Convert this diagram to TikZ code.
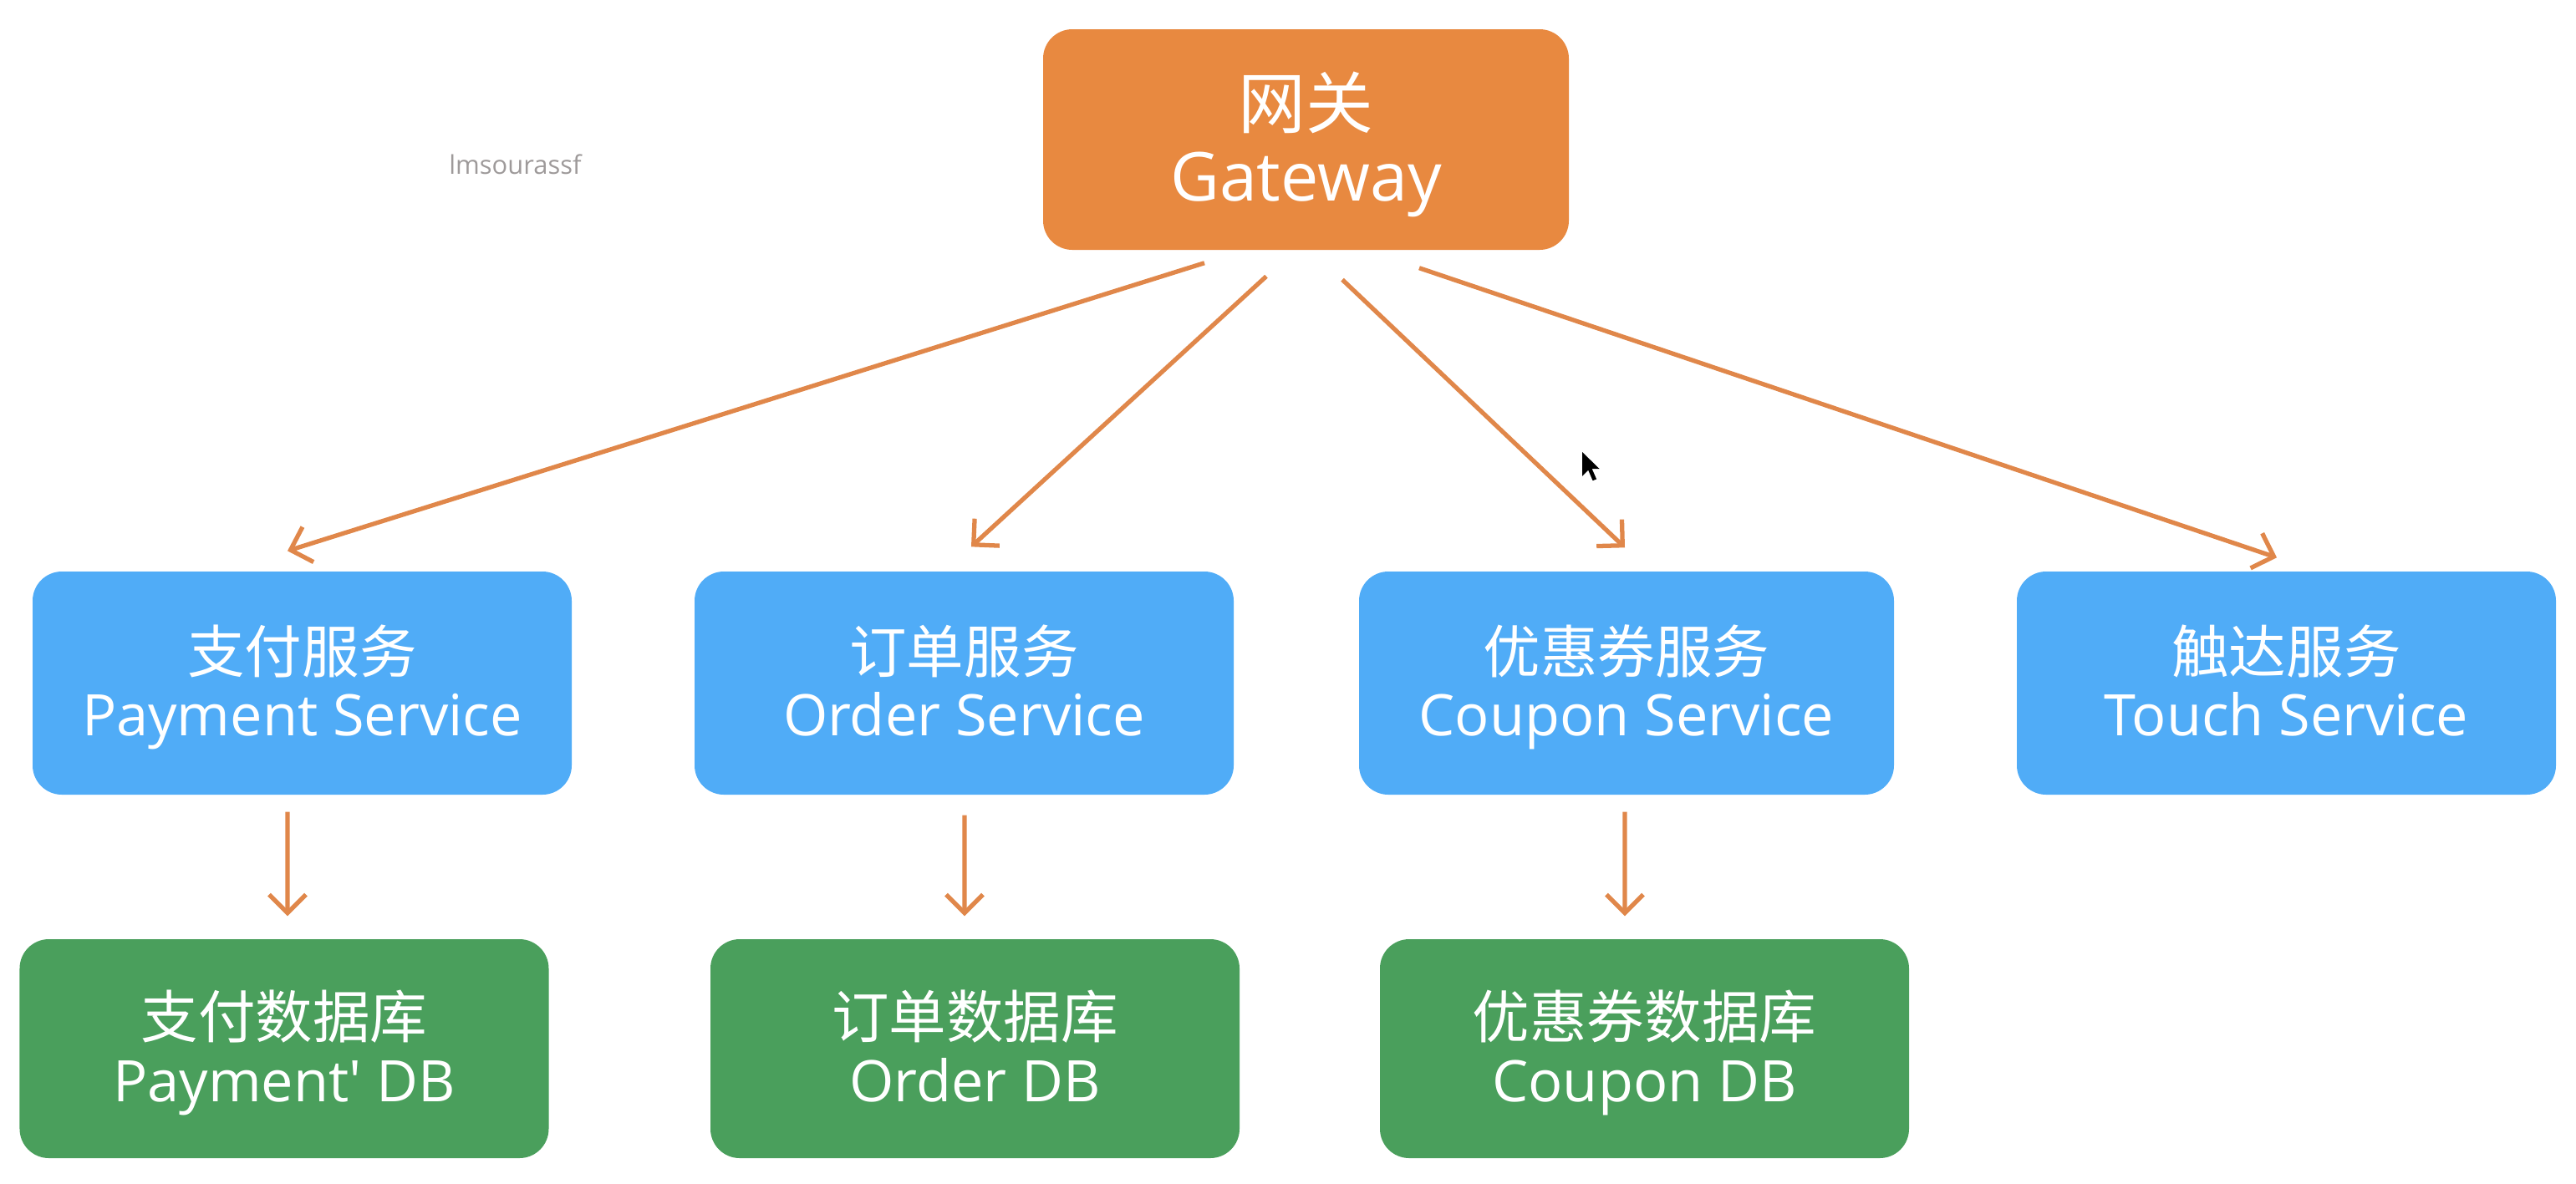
\documentclass[tikz,border=0pt]{standalone}
\usepackage{fontspec}
\usepackage{tikz}
\usetikzlibrary{arrows.meta, positioning, calc}
\setmainfont{Open Sans}
\newfontfamily\cjk{Noto Sans CJK SC}
\newcommand{\padtop}[1]{\rule{0pt}{#1}}
\newcommand{\padbot}[1]{\rule[-#1]{0pt}{#1}}
\definecolor{gworange}{RGB}{232, 137, 64}
\definecolor{svcblue}{RGB}{80, 172, 247}
\definecolor{dbgreen}{RGB}{74, 159, 92}
\definecolor{arrowcol}{RGB}{224, 135, 74}
\definecolor{markgray}{RGB}{158, 154, 154}
\tikzstyle{gatewaybox} = [rectangle, fill=gworange, text=white, align=center, rounded corners=0.35cm, minimum width=6.29cm, minimum height=2.64cm, font=\fontsize{23pt}{24.7pt}\selectfont]
\tikzstyle{service} = [rectangle, fill=svcblue, text=white, align=center, rounded corners=0.35cm, minimum width=6.45cm, minimum height=2.67cm, font=\fontsize{19.5pt}{21.5pt}\selectfont]
\tikzstyle{database} = [rectangle, fill=dbgreen, text=white, align=center, rounded corners=0.35cm, minimum width=6.33cm, minimum height=2.62cm, font=\fontsize{19.5pt}{21.5pt}\selectfont]
\tikzstyle{arrow} = [-{Straight Barb[length=2.2mm, width=4.4mm]}, line width=1.5pt, draw=arrowcol]
\begin{document}
\begin{tikzpicture}
    \useasboundingbox (0,0) rectangle (30.82,-14.16);

    % Gateway
    \node[gatewaybox] (gw) at (15.625, -1.67) {\padtop{22.6pt}{\cjk 网关}\\Gateway\padbot{5.6pt}};

    % Services
    \node[service] (pay) at (3.615, -8.175) {\padtop{19.2pt}{\cjk 支付服务}\\Payment Service\padbot{4.8pt}};
    \node[service] (order) at (11.535, -8.175) {\padtop{19.2pt}{\cjk 订单服务}\\Order Service\padbot{4.8pt}};
    \node[service, minimum width=6.4cm] (coupon) at (19.46, -8.175) {\padtop{19.2pt}{\cjk 优惠券服务}\\Coupon Service\padbot{4.8pt}};
    \node[service] (touch) at (27.355, -8.175) {\padtop{19.2pt}{\cjk 触达服务}\\Touch Service\padbot{4.8pt}};

    % Databases
    \node[database] (paydb) at (3.40, -12.55) {\padtop{19.2pt}{\cjk 支付数据库}\\Payment\textquotesingle{} DB\padbot{4.8pt}};
    \node[database] (orderdb) at (11.665, -12.55) {\padtop{19.2pt}{\cjk 订单数据库}\\Order DB\padbot{4.8pt}};
    \node[database] (coupondb) at (19.675, -12.55) {\padtop{19.2pt}{\cjk 优惠券数据库}\\Coupon DB\padbot{4.8pt}};

    % Arrows
    \draw[arrow] ([xshift=-1.215cm, yshift=-0.15cm]gw.south) -- ([xshift=-0.175cm, yshift=0.24cm]pay.north);
    \draw[arrow] ([xshift=-0.475cm, yshift=-0.31cm]gw.south) -- ([xshift=0.085cm, yshift=0.29cm]order.north);
    \draw[arrow] ([xshift=0.435cm, yshift=-0.35cm]gw.south) -- ([xshift=-0.02cm, yshift=0.28cm]coupon.north);
    \draw[arrow] ([xshift=1.355cm, yshift=-0.21cm]gw.south) -- ([xshift=-0.115cm, yshift=0.16cm]touch.north);
    \draw[arrow] ([xshift=-0.175cm, yshift=-0.2cm]pay.south) -- ([xshift=0.04cm, yshift=0.27cm]paydb.north);
    \draw[arrow] ([xshift=0.005cm, yshift=-0.24cm]order.south) -- ([xshift=-0.125cm, yshift=0.27cm]orderdb.north);
    \draw[arrow] ([xshift=-0.02cm, yshift=-0.2cm]coupon.south) -- ([xshift=-0.235cm, yshift=0.27cm]coupondb.north);

    % Labels
    \node[text=markgray, font=\fontsize{8.8pt}{10pt}\selectfont] (mark) at (6.165, -1.97) {lmsourassf};

    % Cursor
    \fill[black, shift={(18.93,-5.41)}, scale=0.018] (0,0) -- (0,-16) -- (4,-12) -- (7,-19) -- (9.5,-18) -- (6.5,-11.2) -- (11.5,-11.2) -- cycle;
\end{tikzpicture}
\end{document}
